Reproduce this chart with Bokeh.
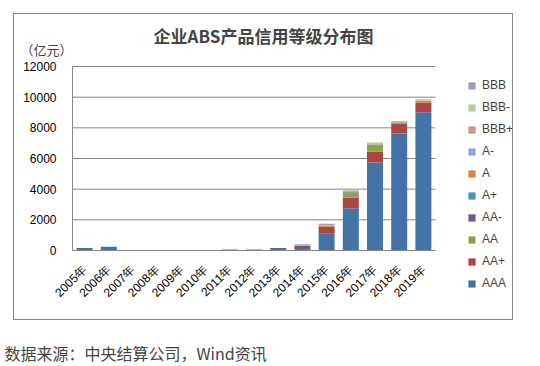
import math
from bokeh.plotting import figure
from bokeh.models import (Legend, LegendItem, Label, FixedTicker, ColumnDataSource,
                          InlineStyleSheet, Range1d)
from bokeh.embed import file_html
from bokeh.resources import INLINE

years = [f"{y}年" for y in range(2005, 2020)]
series = ["AAA", "AA+", "AA", "AA-", "A+", "A", "A-", "BBB+", "BBB-", "BBB"]
colors = ["#4572A7", "#AA4643", "#89A54E", "#71588F", "#4198AF",
          "#DB843D", "#93A9CF", "#D19392", "#B9CD96", "#A99BBD"]

AAA    = [160, 240, 0, 0, 0, 0, 60, 70, 160, 160, 1090, 2760, 5740, 7630, 9020]
AA_p   = [0, 0, 0, 0, 0, 0, 0, 0, 0, 150, 480, 700, 720, 650, 630]
AA     = [0, 0, 0, 0, 0, 0, 0, 0, 0, 20, 40, 330, 390, 80, 0]
AA_m   = [0, 0, 0, 0, 0, 0, 0, 0, 0, 0, 0, 60, 60, 0, 0]
A_p    = [0, 0, 0, 0, 0, 0, 0, 0, 0, 0, 0, 0, 0, 0, 0]
A      = [0, 0, 0, 0, 0, 0, 0, 0, 0, 0, 0, 0, 0, 0, 130]
A_m    = [0, 0, 0, 0, 0, 0, 0, 0, 0, 80, 30, 0, 0, 65, 0]
BBB_p  = [0, 0, 0, 0, 0, 0, 0, 0, 0, 0, 100, 20, 0, 0, 0]
BBB_m  = [0, 0, 0, 0, 0, 0, 0, 0, 0, 0, 0, 60, 130, 0, 30]
BBB    = [0, 0, 0, 0, 0, 0, 0, 0, 0, 0, 0, 0, 0, 0, 40]

y_ticks = [0, 2000, 4000, 6000, 8000, 10000, 12000]
y_max = 12000

pos = list(range(len(years)))
data = {"x": pos}
for name, vals in zip(series, [AAA, AA_p, AA, AA_m, A_p, A, A_m, BBB_p, BBB_m, BBB]):
    data[name] = vals
src = ColumnDataSource(data)

# page layout (pixels): plot area 72..435 x 66..250
W, H = 530, 366
PL, PR, PT, PB = 72, 435, 66, 250
n = len(years)
ux = (PR - PL) / n            # px per category
uy = (PB - PT) / y_max        # px per unit
x_lo, x_hi = -0.5, n - 0.5
p = figure(width=W, height=H, output_backend="svg", toolbar_location=None,
           x_range=Range1d(x_lo - PL / ux, x_lo + (W - PL) / ux),
           y_range=Range1d(-(H - PB) / uy, PB / uy),
           min_border=0, min_border_left=0, min_border_right=0,
           min_border_top=0, min_border_bottom=0)

p.background_fill_color = "white"
p.border_fill_color = "white"
p.outline_line_color = None
p.grid.visible = False

# horizontal gridlines at the tick values, limited to the plot area
p.segment(x0=x_lo, x1=x_hi, y0=y_ticks, y1=y_ticks, line_color="#868686", line_width=1)

rs = p.vbar_stack(series, x="x", width=0.66, source=src, color=colors, line_color=None)

xa, ya = p.xaxis[0], p.yaxis[0]
xa.fixed_location = 0
xa.bounds = (x_lo, x_hi)
xa.ticker = FixedTicker(ticks=pos)
xa.major_label_overrides = {i: y for i, y in zip(pos, years)}
xa.major_label_orientation = math.pi / 4
xa.major_label_standoff = 11
ya.fixed_location = x_lo
ya.bounds = (0, y_max)
ya.ticker = FixedTicker(ticks=y_ticks)
ya.major_label_standoff = 10
for ax in (xa, ya):
    ax.axis_line_color = "#868686"
    ax.major_tick_line_color = None
    ax.minor_tick_line_color = None
    ax.major_label_text_font = "Liberation Sans"
    ax.major_label_text_font_size = "12px"
    ax.major_label_text_color = "black"

items = [LegendItem(label=series[i], renderers=[rs[i]]) for i in reversed(range(len(series)))]
leg = Legend(items=items, location=(467, H - 290), orientation="vertical",
             glyph_width=9, glyph_height=9, label_height=14, spacing=8,
             label_standoff=6, padding=0, margin=0,
             border_line_color=None, background_fill_alpha=0,
             label_text_font="Liberation Sans", label_text_font_size="12px")
p.add_layout(leg, "center")

p.add_layout(Label(x=263, y=H - 35, x_units="screen", y_units="screen",
                   text="企业ABS产品信用等级分布图",
                   text_font="Noto Sans CJK SC", text_font_style="bold", text_font_size="17px",
                   text_align="center", text_baseline="middle"))
p.add_layout(Label(x=20, y=H - 49, x_units="screen", y_units="screen", text="（亿元）",
                   text_font="Noto Sans CJK SC", text_font_size="13px",
                   text_align="left", text_baseline="middle"))
p.add_layout(Label(x=4, y=H - 352, x_units="screen", y_units="screen",
                   text="数据来源：中央结算公司，Wind资讯",
                   text_font="Noto Sans CJK SC", text_font_size="16px",
                   text_align="left", text_baseline="middle"))

p.stylesheets = [InlineStyleSheet(css=(
    ":host::after{content:'';position:absolute;left:13px;top:13px;width:500px;height:307px;"
    "border:1px solid #868686;box-sizing:border-box;pointer-events:none;}"))]

open("out.html", "w").write(file_html(p, INLINE))
